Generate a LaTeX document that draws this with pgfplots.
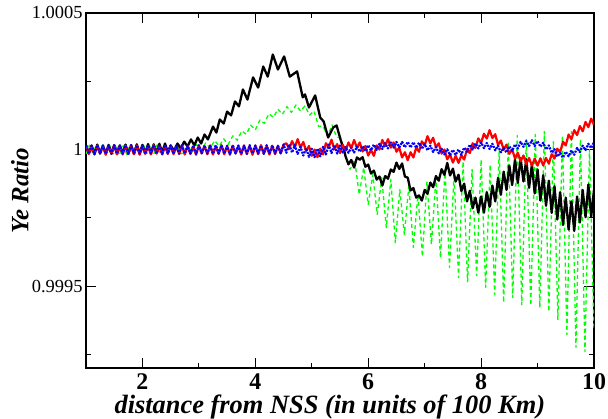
\documentclass[border=0pt]{standalone}
\usepackage{fontspec}
\setmainfont{Liberation Serif}
\usepackage{pgfplots}
\pgfplotsset{compat=1.18}
\begin{document}
\begin{tikzpicture}
\begin{axis}[
  name=ax,
  scale only axis,
  width=508bp, height=355bp,
  xmin=1, xmax=10,
  ymin=0.9992, ymax=1.0005,
  y coord trafo/.code={\edef\pgfmathresult{\fpeval{(#1-1)*100000}}},
  scaled y ticks=false, scaled x ticks=false,
  xtick={2,4,6,8,10},
  xticklabels={2,4,6,8,10},
  minor xtick={3,5,7,9},
  ytick={0.9995,1,1.0005},
  yticklabels={0.9995,1,1.0005},
  minor ytick={0.99925,0.99975,1.00025},
  tick align=inside,
  xtick pos=both, ytick pos=both,
  xticklabel pos=bottom, yticklabel pos=left,
  major tick length=10bp, minor tick length=5bp,
  every tick/.style={black, line width=0.8bp},
  axis line style={line width=1.3bp},
  xticklabel style={font=\fontsize{24}{24}\selectfont\bfseries, yshift=-2bp},
  yticklabel style={font=\fontsize{18.5}{18.5}\selectfont},
  xlabel={distance from NSS (in units of 100 Km)},
  ylabel={Ye Ratio},
  xlabel style={font=\fontsize{26.5}{26.5}\selectfont\bfseries\itshape, at={(axis description cs:0.48,-0.1268)}, anchor=base},
  ylabel style={font=\fontsize{25}{25}\selectfont\bfseries\itshape, at={(axis description cs:-0.13,0.5)}, anchor=center},
  every axis plot/.append style={line join=round},
]
% green dashed
\addplot[green, line width=1.3bp, dash pattern=on 4bp off 3bp] table {
1.00 0.999984
1.06 1.000016
1.12 0.999986
1.18 1.000014
1.24 0.999983
1.30 1.000017
1.36 0.999985
1.42 1.000015
1.48 0.999984
1.54 1.000016
1.60 0.999986
1.66 1.000014
1.72 0.999983
1.78 1.000017
1.84 0.999985
1.90 1.000015
1.96 0.999984
2.02 1.000016
2.08 0.999986
2.14 1.000014
2.20 0.999983
2.26 1.000017
2.32 0.999985
2.38 1.000015
2.44 0.999984
2.50 1.000016
2.56 0.999986
2.62 1.000014
2.68 0.999985
2.74 0.999988
2.80 1.000014
2.88 0.999991
2.96 1.000018
3.04 0.999997
3.12 1.000024
3.20 1.000005
3.28 1.000033
3.36 1.000012
3.44 1.000039
3.52 1.000019
3.60 1.000050
3.68 1.000034
3.76 1.000068
3.84 1.000056
3.92 1.000089
4.00 1.000072
4.08 1.000108
4.16 1.000096
4.24 1.000131
4.32 1.000118
4.40 1.000148
4.48 1.000129
4.56 1.000157
4.64 1.000136
4.72 1.000163
4.80 1.000141
4.88 1.000160
4.96 1.000126
5.04 1.000141
5.12 1.000085
5.20 1.000085
5.28 1.000050
5.36 1.000090
5.44 1.000046
5.52 1.000042
5.60 0.999973
5.68 0.999927
5.76 0.999963
5.84 0.999835
5.92 0.999934
6.00 0.999799
6.08 0.999908
6.16 0.999762
6.24 0.999897
6.32 0.999714
6.40 0.999890
6.48 0.999659
6.56 0.999853
6.64 0.999689
6.72 0.999868
6.80 0.999641
6.88 0.999835
6.96 0.999608
7.04 0.999883
7.12 0.999652
7.20 0.999897
7.28 0.999604
7.36 0.999927
7.44 0.999568
7.52 0.999908
7.60 0.999531
7.68 0.999956
7.76 0.999516
7.84 0.999927
7.92 0.999538
8.00 0.999963
8.08 0.999495
8.16 0.999945
8.24 0.999469
8.32 1.000000
8.40 0.999440
8.48 1.000029
8.56 0.999458
8.64 1.000051
8.72 0.999432
8.80 1.000037
8.88 0.999429
8.96 1.000055
9.04 0.999421
9.12 1.000066
9.20 0.999407
9.28 1.000029
9.36 0.999377
9.44 1.000051
9.52 0.999322
9.60 1.000066
9.68 0.999275
9.76 1.000037
9.84 0.999260
9.92 1.000000
10.00 0.999341
};
% black solid
\addplot[black, line width=2.3bp] table {
1.00 1.000017
1.05 0.999985
1.10 1.000015
1.15 0.999983
1.20 1.000018
1.25 0.999986
1.30 1.000014
1.35 0.999984
1.40 1.000017
1.45 0.999985
1.50 1.000016
1.55 0.999983
1.60 1.000015
1.65 0.999986
1.70 1.000018
1.75 0.999984
1.80 1.000016
1.85 0.999985
1.90 1.000019
1.95 0.999986
2.00 1.000017
2.05 0.999987
2.10 1.000020
2.15 0.999986
2.20 1.000019
2.25 0.999988
2.30 1.000021
2.35 0.999989
2.40 1.000022
2.45 0.999990
2.50 1.000015
2.56 0.999996
2.62 1.000022
2.68 1.000004
2.74 1.000029
2.80 1.000011
2.86 1.000037
2.92 1.000015
2.98 1.000044
3.04 1.000022
3.10 1.000055
3.16 1.000037
3.25 1.000084
3.31 1.000062
3.37 1.000110
3.44 1.000095
3.50 1.000139
3.57 1.000125
3.64 1.000176
3.71 1.000158
3.78 1.000220
3.86 1.000183
3.96 1.000264
4.05 1.000227
4.14 1.000304
4.22 1.000267
4.31 1.000348
4.40 1.000293
4.51 1.000341
4.61 1.000267
4.74 1.000286
4.84 1.000191
4.88 1.000202
4.95 1.000154
5.06 1.000198
5.15 1.000117
5.21 1.000103
5.29 1.000044
5.38 1.000081
5.44 1.000088
5.52 1.000029
5.57 1.000000
5.60 0.999974
5.65 0.999946
5.70 0.999962
5.75 0.999934
5.80 0.999971
5.85 0.999963
5.90 0.999972
5.95 0.999937
6.00 0.999945
6.05 0.999912
6.10 0.999923
6.15 0.999890
6.20 0.999901
6.25 0.999868
6.30 0.999903
6.35 0.999893
6.40 0.999927
6.45 0.999918
6.50 0.999952
6.55 0.999929
6.60 0.999949
6.65 0.999901
6.70 0.999897
6.75 0.999850
6.80 0.999859
6.85 0.999824
6.90 0.999832
6.95 0.999813
7.00 0.999852
7.05 0.999838
7.10 0.999879
7.15 0.999862
7.20 0.999903
7.25 0.999886
7.30 0.999928
7.35 0.999907
7.40 0.999951
7.45 0.999905
7.50 0.999930
7.55 0.999883
7.60 0.999908
7.65 0.999848
7.70 0.999875
7.75 0.999810
7.80 0.999849
7.85 0.999785
7.90 0.999824
7.95 0.999769
8.00 0.999828
8.05 0.999769
8.10 0.999844
8.15 0.999790
8.20 0.999868
8.25 0.999810
8.30 0.999896
8.35 0.999834
8.40 0.999919
8.45 0.999852
8.50 0.999941
8.55 0.999870
8.60 0.999963
8.65 0.999878
8.70 0.999968
8.75 0.999883
8.80 0.999964
8.85 0.999860
8.90 0.999945
8.95 0.999839
9.00 0.999927
9.05 0.999813
9.10 0.999906
9.15 0.999794
9.20 0.999886
9.25 0.999768
9.30 0.999866
9.35 0.999744
9.40 0.999844
9.45 0.999724
9.50 0.999824
9.55 0.999707
9.60 0.999810
9.65 0.999702
9.70 0.999828
9.75 0.999733
9.80 0.999852
9.85 0.999752
9.90 0.999872
9.95 0.999753
10.00 0.999853
};
% red solid
\addplot[red, line width=2.2bp] table {
1.00 1.000014
1.05 0.999984
1.10 1.000011
1.15 0.999982
1.20 1.000015
1.25 0.999986
1.30 1.000012
1.35 0.999981
1.40 1.000013
1.45 0.999985
1.50 1.000016
1.55 0.999983
1.60 1.000012
1.65 0.999982
1.70 1.000014
1.75 0.999986
1.80 1.000011
1.85 0.999983
1.90 1.000015
1.95 0.999981
2.00 1.000013
2.05 0.999984
2.10 1.000012
2.15 0.999982
2.20 1.000016
2.25 0.999985
2.30 1.000013
2.35 0.999982
2.40 1.000012
2.45 0.999984
2.50 1.000014
2.55 0.999983
2.60 1.000011
2.65 0.999985
2.70 1.000015
2.75 0.999982
2.80 1.000013
2.85 0.999984
2.90 1.000012
2.95 0.999981
3.00 1.000014
3.05 0.999986
3.10 1.000013
3.15 0.999983
3.20 1.000015
3.25 0.999982
3.30 1.000012
3.35 0.999984
3.40 1.000016
3.45 0.999983
3.50 1.000013
3.55 0.999981
3.60 1.000014
3.65 0.999985
3.70 1.000012
3.75 0.999982
3.80 1.000015
3.85 0.999984
3.90 1.000013
3.95 0.999981
4.00 1.000014
4.05 0.999983
4.10 1.000016
4.15 0.999985
4.20 1.000012
4.25 0.999982
4.30 1.000014
4.35 0.999984
4.40 1.000013
4.45 0.999986
4.50 1.000018
4.55 1.000023
4.60 1.000002
4.65 1.000031
4.70 1.000009
4.75 1.000038
4.80 1.000007
4.85 1.000028
4.90 0.999994
4.95 1.000013
5.00 0.999977
5.05 1.000000
5.10 0.999972
5.15 1.000003
5.20 0.999982
5.25 1.000023
5.30 1.000009
5.35 1.000036
5.40 1.000001
5.45 1.000020
5.50 0.999987
5.55 1.000017
5.60 0.999996
5.65 1.000026
5.70 1.000005
5.75 1.000035
5.80 1.000006
5.85 1.000026
5.90 0.999993
5.95 1.000013
6.00 0.999978
6.05 0.999998
6.10 0.999977
6.15 1.000015
6.20 1.000000
6.25 1.000035
6.30 1.000013
6.35 1.000038
6.40 1.000007
6.45 1.000026
6.50 0.999992
6.55 1.000007
6.60 0.999971
6.65 0.999990
6.70 0.999961
6.75 0.999990
6.80 0.999971
6.85 1.000007
6.90 0.999992
6.95 1.000030
7.00 1.000015
7.05 1.000049
7.10 1.000023
7.15 1.000043
7.20 1.000008
7.25 1.000023
7.30 0.999985
7.35 1.000000
7.40 0.999964
7.45 0.999982
7.50 0.999952
7.55 0.999977
7.60 0.999951
7.65 0.999979
7.70 0.999963
7.75 1.000001
7.80 0.999987
7.85 1.000023
7.90 1.000006
7.95 1.000041
8.00 1.000024
8.05 1.000058
8.10 1.000040
8.15 1.000071
8.20 1.000042
8.25 1.000056
8.30 1.000017
8.35 1.000033
8.40 0.999999
8.45 1.000018
8.50 0.999984
8.55 1.000001
8.60 0.999967
8.65 0.999988
8.70 0.999957
8.75 0.999978
8.80 0.999947
8.85 0.999969
8.90 0.999941
8.95 0.999967
9.00 0.999941
9.05 0.999968
9.10 0.999942
9.15 0.999969
9.20 0.999948
9.25 0.999983
9.30 0.999967
9.35 1.000003
9.40 0.999990
9.45 1.000029
9.50 1.000015
9.55 1.000055
9.60 1.000038
9.65 1.000071
9.70 1.000053
9.75 1.000086
9.80 1.000067
9.85 1.000101
9.90 1.000082
9.95 1.000113
10.00 1.000090
};
% blue dotted
\addplot[blue, line width=2.2bp, dash pattern=on 2bp off 1.2bp] table {
1.00 1.000015
1.05 0.999985
1.10 1.000014
1.15 0.999984
1.20 1.000016
1.25 0.999986
1.30 1.000015
1.35 0.999985
1.40 1.000014
1.45 0.999984
1.50 1.000016
1.55 0.999986
1.60 1.000015
1.65 0.999985
1.70 1.000014
1.75 0.999984
1.80 1.000016
1.85 0.999986
1.90 1.000015
1.95 0.999985
2.00 1.000014
2.05 0.999984
2.10 1.000016
2.15 0.999986
2.20 1.000015
2.25 0.999985
2.30 1.000014
2.35 0.999984
2.40 1.000016
2.45 0.999986
2.50 1.000015
2.55 0.999985
2.60 1.000014
2.65 0.999984
2.70 1.000016
2.75 0.999986
2.80 1.000015
2.85 0.999985
2.90 1.000014
2.95 0.999984
3.00 1.000016
3.05 0.999986
3.10 1.000015
3.15 0.999985
3.20 1.000014
3.25 0.999984
3.30 1.000016
3.35 0.999986
3.40 1.000015
3.45 0.999985
3.50 1.000014
3.55 0.999984
3.60 1.000016
3.65 0.999986
3.70 1.000015
3.75 0.999985
3.80 1.000014
3.85 0.999984
3.90 1.000016
3.95 0.999986
4.00 1.000015
4.05 0.999985
4.10 1.000014
4.15 0.999984
4.20 1.000016
4.25 0.999986
4.30 1.000015
4.35 0.999985
4.40 1.000014
4.45 0.999986
4.50 1.000018
4.55 0.999988
4.60 1.000019
4.65 0.999989
4.70 1.000016
4.75 0.999984
4.80 1.000010
4.85 0.999978
4.90 1.000005
4.95 0.999973
5.00 1.000003
5.05 0.999972
5.10 1.000003
5.15 0.999975
5.20 1.000010
5.25 0.999982
5.30 1.000018
5.35 0.999987
5.40 1.000016
5.45 0.999985
5.50 1.000015
5.55 0.999989
5.60 1.000009
5.65 0.999988
5.70 1.000007
5.75 0.999989
5.80 1.000010
5.85 0.999992
5.90 1.000013
5.95 0.999994
6.00 1.000016
6.05 0.999997
6.10 1.000018
6.15 0.999999
6.20 1.000021
6.25 1.000002
6.30 1.000023
6.35 1.000004
6.40 1.000026
6.45 1.000007
6.50 1.000028
6.55 1.000008
6.60 1.000028
6.65 1.000008
6.70 1.000028
6.75 1.000007
6.80 1.000027
6.85 1.000006
6.90 1.000025
6.95 1.000002
7.00 1.000020
7.05 0.999997
7.10 1.000014
7.15 0.999991
7.20 1.000009
7.25 0.999986
7.30 1.000003
7.35 0.999982
7.40 1.000001
7.45 0.999980
7.50 0.999999
7.55 0.999980
7.60 1.000000
7.65 0.999981
7.70 1.000007
7.75 0.999992
7.80 1.000018
7.85 1.000000
7.90 1.000022
7.95 1.000004
8.00 1.000026
8.05 1.000005
8.10 1.000024
8.15 1.000002
8.20 1.000021
8.25 0.999997
8.30 1.000014
8.35 0.999990
8.40 1.000006
8.45 0.999989
8.50 1.000012
8.55 0.999995
8.60 1.000019
8.65 1.000004
8.70 1.000028
8.75 1.000010
8.80 1.000031
8.85 1.000013
8.90 1.000034
8.95 1.000013
9.00 1.000031
9.05 1.000010
9.10 1.000025
9.15 1.000000
9.20 1.000015
9.25 0.999988
9.30 1.000001
9.35 0.999974
9.40 0.999987
9.45 0.999970
9.50 0.999992
9.55 0.999975
9.60 0.999997
9.65 0.999981
9.70 1.000006
9.75 0.999990
9.80 1.000014
9.85 0.999998
9.90 1.000021
9.95 1.000005
10.00 1.000028
};
\end{axis}
\pgfresetboundingbox
\path ([xshift=-86bp,yshift=-51bp]ax.south west) rectangle ([xshift=14bp,yshift=13bp]ax.north east);
\end{tikzpicture}
\end{document}
